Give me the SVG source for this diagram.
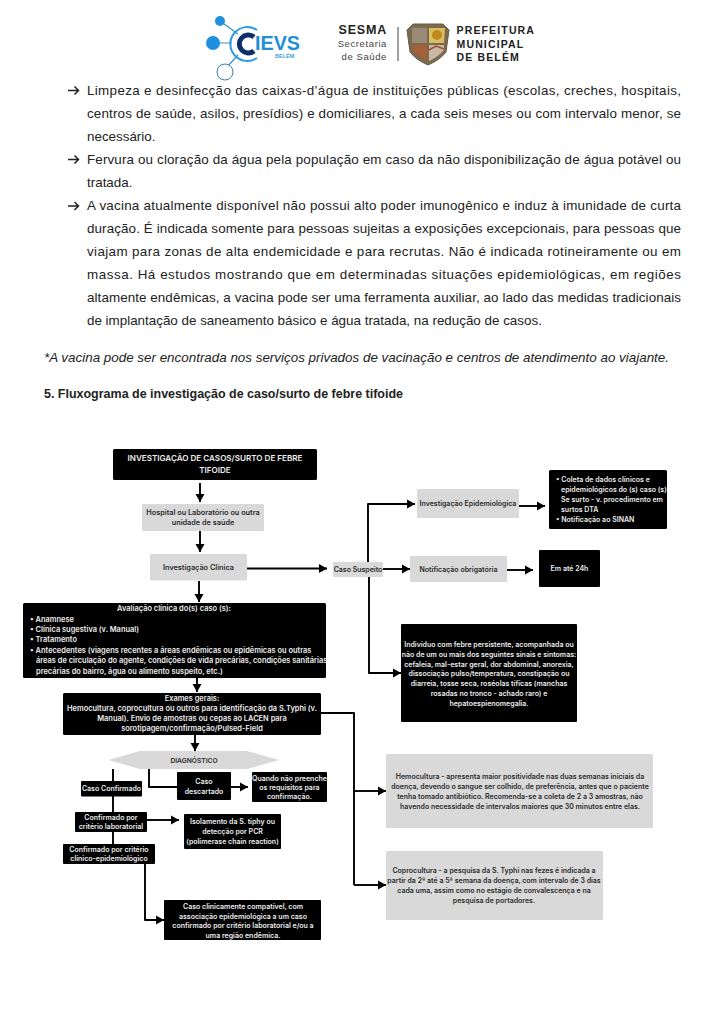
<svg xmlns="http://www.w3.org/2000/svg" width="725" height="1024" viewBox="0 0 725 1024">
<style>
text{font-family:"Liberation Sans",Arial,sans-serif}
.b{font-size:13.4px;fill:#222}
.k{fill:#000}
.g{fill:#d9d9d9}
.t{font-family:Inter,"Noto Sans",sans-serif;font-size:7px;font-weight:600;text-anchor:middle}
.w{fill:#eee}
.d{fill:#2a2a2a}
.l{font-family:Inter,"Noto Sans",sans-serif;font-size:7px;font-weight:600}
.big{font-size:7.45px}
.mid{font-size:7.3px}
.c{fill:none;stroke:#000;stroke-width:1.9;stroke-linejoin:round}
.a{marker-end:url(#ah)}
.bar{fill:none;stroke:#222;stroke-width:1.500}
</style>
<defs>
<marker id="ah" markerUnits="userSpaceOnUse" markerWidth="9" markerHeight="10" refX="8" refY="5" orient="auto"><path d="M0,0.500L8,5L0,9.500z" fill="#000"/></marker>
</defs>
<rect width="725" height="1024" fill="#fff"/>
<g id="logo-cievs">
<path d="M220,21L238,34M213,43H232M226,68L238,55" stroke="#3d8fc0" stroke-width="1.200" fill="none"/>
<circle cx="220" cy="21" r="5" fill="#1f8fe0"/><circle cx="213" cy="43" r="7" fill="#1f8fe0"/><circle cx="225" cy="72" r="8" fill="#fff" stroke="#3d7fa8" stroke-width="1"/>
<path d="M257,30A17,17 0 1 0 257,58" fill="none" stroke="#2a9be0" stroke-width="2"/>
<path d="M254,37A9,9 0 1 0 254,51" fill="none" stroke="#0c2f6b" stroke-width="5"/>
<text x="255" y="50" font-size="19.500" font-weight="700" fill="#1f8fd6" textLength="45" lengthAdjust="spacingAndGlyphs">IEVS</text>
<text x="275" y="58" font-size="5.500" font-weight="700" fill="#3d9fd6">BELÉM</text>
</g>
<g id="logo-sesma">
<text x="387" y="34" font-size="12.500" font-weight="700" text-anchor="end" letter-spacing=".8" fill="#222">SESMA</text>
<text x="387" y="47" font-size="9.500" text-anchor="end" letter-spacing=".6" fill="#444">Secretaria</text>
<text x="387" y="60" font-size="9.500" text-anchor="end" letter-spacing=".6" fill="#444">de Saúde</text>
<path d="M398,27V61" stroke="#444" stroke-width="1"/>
<path d="M407,30L413,24H443L449,30L446,52Q440,60 428,65Q416,60 410,52z" fill="#7a6a50" stroke="#6b5a40"/>
<path d="M412,28H427V43H412z" fill="#9a8a78"/>
<path d="M429,28H445L444,43H429z" fill="#d8c060"/><circle cx="437" cy="35" r="5" fill="#c08a20"/>
<path d="M413,45H427V60Q418,56 413,51z" fill="#a5603a"/><path d="M429,45H444V50Q438,57 429,61z" fill="#c9b8a6"/>
<path d="M429,50L436,46L444,49" stroke="#a05030" stroke-width="1.500" fill="none"/>
<text x="456.500" y="34" font-size="10.500" font-weight="700" letter-spacing="1.150" fill="#222">PREFEITURA</text>
<text x="456.500" y="48" font-size="10.500" font-weight="700" letter-spacing="1.150" fill="#222">MUNICIPAL</text>
<text x="456.500" y="61" font-size="10.500" font-weight="700" letter-spacing="1.150" fill="#222">DE BELÉM</text>
</g>
<g id="body-text">
<path class="bar" d="M68,90.500H78M74.500,86.500L78.500,90.500L74.500,94.500"/>
<path class="bar" d="M68,159.500H78M74.500,155.500L78.500,159.500L74.500,163.500"/>
<path class="bar" d="M68,206H78M74.500,202L78.500,206L74.500,210"/>
<text class="b" x="87" y="95" textLength="594">Limpeza e desinfecção das caixas-d’água de instituições públicas (escolas, creches, hospitais,</text>
<text class="b" x="87" y="118" textLength="594">centros de saúde, asilos, presídios) e domiciliares, a cada seis meses ou com intervalo menor, se</text>
<text class="b" x="87" y="141">necessário.</text>
<text class="b" x="87" y="164" textLength="594">Fervura ou cloração da água pela população em caso da não disponibilização de água potável ou</text>
<text class="b" x="87" y="187">tratada.</text>
<text class="b" x="87" y="210" textLength="594">A vacina atualmente disponível não possui alto poder imunogênico e induz à imunidade de curta</text>
<text class="b" x="87" y="233" textLength="594">duração. É indicada somente para pessoas sujeitas a exposições excepcionais, para pessoas que</text>
<text class="b" x="87" y="256" textLength="594">viajam para zonas de alta endemicidade e para recrutas. Não é indicada rotineiramente ou em</text>
<text class="b" x="87" y="279" textLength="594">massa. Há estudos mostrando que em determinadas situações epidemiológicas, em regiões</text>
<text class="b" x="87" y="302" textLength="594">altamente endêmicas, a vacina pode ser uma ferramenta auxiliar, ao lado das medidas tradicionais</text>
<text class="b" x="87" y="325">de implantação de saneamento básico e água tratada, na redução de casos.</text>
<text class="b" x="44" y="362" font-style="italic" textLength="625">*A vacina pode ser encontrada nos serviços privados de vacinação e centros de atendimento ao viajante.</text>
<text class="b" x="44" y="398" font-weight="700" textLength="359" style="font-size:12.500px">5. Fluxograma de investigação de caso/surto de febre tifoide</text>
</g>
<g id="connectors">
<path class="c a" d="M200,483V502"/>
<path class="c a" d="M200,531V552"/>
<path class="c a" d="M247,568.500H327"/>
<path class="c a" d="M199,581V602"/>
<path class="c a" d="M197,678V692"/>
<path class="c a" d="M195,735V751"/>
<path class="c" d="M113,769V844"/>
<path class="c" d="M149,769V787H177"/>
<path class="c a" d="M231,787H248"/>
<path class="c a" d="M147,820H179"/>
<path class="c a" d="M145,864V920H164"/>
<path class="c" d="M321,713H354V885"/>
<path class="c a" d="M354,791H386"/>
<path class="c a" d="M354,885H386"/>
<path class="c a" d="M368,562V504H415"/>
<path class="c a" d="M383,569H410"/>
<path class="c a" d="M369,577V673H401"/>
<path class="c a" d="M519,506H545"/>
<path class="c a" d="M507,570H533"/>
</g>
<g id="n-inicio"><rect class="k" x="113" y="449" width="204" height="31" rx="1.500"/><text class="t w" x="215" y="461" style="font-size:8.100px">INVESTIGAÇÃO DE CASOS/SURTO DE FEBRE</text><text class="t w" x="215" y="473" style="font-size:8.100px">TIFOIDE</text></g>
<g id="n-hospital"><rect class="g" x="142" y="504" width="122" height="27" rx="1.500"/><text class="t d mid" x="203" y="515">Hospital ou Laboratório ou outra</text><text class="t d mid" x="203" y="525">unidade de saúde</text></g>
<g id="n-clinica"><rect class="g" x="150" y="554" width="97" height="26.500" rx="1.500"/><text class="t d mid" x="198.500" y="570">Investigação Clínica</text></g>
<g id="n-avaliacao"><rect class="k" x="23" y="603" width="303" height="75" rx="1.500"/>
<text class="t w big" x="174" y="611">Avaliação clínica do(s) caso (s):</text>
<text class="l w big" x="30" y="621.500">• Anamnese</text><text class="l w big" x="30" y="631.500">•  Clínica sugestiva (v. Manual)</text><text class="l w big" x="30" y="642">• Tratamento</text><text class="l w big" x="30" y="652.500">• Antecedentes (viagens recentes a áreas endêmicas ou epidêmicas ou outras</text><text class="l w big" x="36" y="663">áreas de circulação do agente, condições de vida precárias, condições sanitárias</text><text class="l w big" x="36" y="673.500">precárias do bairro, água ou alimento suspeito, etc.)</text></g>
<g id="n-exames"><rect class="k" x="63" y="693" width="258" height="42" rx="1.500"/>
<text class="t w big" x="192" y="700.500">Exames gerais:</text><text class="t w big" x="192" y="711">Hemocultura, coprocultura ou outros para identificação da S.Typhi (v.</text><text class="t w big" x="192" y="721">Manual). Envio de amostras ou cepas ao LACEN para</text><text class="t w big" x="192" y="731">sorotipagem/confirmação/Pulsed-Field</text></g>
<g id="n-diagnostico"><path class="g" d="M108,760L140,751H247L279,760L247,769H140z"/><text class="t d" x="194" y="763" style="font-size:6.700px">DIAGNÓSTICO</text></g>
<g id="n-confirmado"><rect class="k" x="81" y="781" width="61" height="15.500" rx="1"/><text class="t w" x="111.500" y="791">Caso Confirmado</text></g>
<g id="n-descartado"><rect class="k" x="177" y="772" width="54" height="28" rx="1"/><text class="t w" x="204" y="784">Caso</text><text class="t w" x="204" y="794">descartado</text></g>
<g id="n-quando"><rect class="k" x="252" y="772" width="75" height="30" rx="1"/><text class="t w" x="289.500" y="780.500">Quando não preenche</text><text class="t w" x="289.500" y="790">os requisitos para</text><text class="t w" x="289.500" y="799">confirmação.</text></g>
<g id="n-lab"><rect class="k" x="75" y="812" width="72" height="20" rx="1"/><text class="t w" x="111" y="820">Confirmado por</text><text class="t w" x="111" y="829">critério laboratorial</text></g>
<g id="n-isolamento"><rect class="k" x="184" y="814" width="97" height="35" rx="1"/><text class="t w" x="232.500" y="824">Isolamento da S. tiphy ou</text><text class="t w" x="232.500" y="834">detecção por PCR</text><text class="t w" x="232.500" y="844">(polimerase chain reaction)</text></g>
<g id="n-clinepi"><rect class="k" x="63" y="844" width="92" height="20" rx="1"/><text class="t w" x="109" y="852">Confirmado por critério</text><text class="t w" x="109" y="861">clínico-epidemiológico</text></g>
<g id="n-compat"><rect class="k" x="164" y="900" width="157" height="40" rx="1"/><text class="t w" x="243" y="909">Caso clinicamente compatível, com</text><text class="t w" x="243" y="919">associação epidemiológica a um caso</text><text class="t w" x="243" y="928">confirmado por critério laboratorial e/ou a</text><text class="t w" x="243" y="938">uma região endêmica.</text></g>
<g id="n-hemo"><rect class="g" x="386" y="754" width="267" height="74" rx="1.500"/><text class="t d" x="520" y="779">Hemocultura - apresenta maior positividade nas duas semanas iniciais da</text><text class="t d" x="520" y="789">doença, devendo o sangue ser colhido, de preferência, antes que o paciente</text><text class="t d" x="520" y="799">tenha tomado antibiótico.  Recomenda-se a coleta de 2 a 3 amostras, não</text><text class="t d" x="520" y="808.500">havendo necessidade de intervalos maiores que 30 minutos entre elas.</text></g>
<g id="n-copro"><rect class="g" x="386" y="851" width="217" height="69" rx="1.500"/><text class="t d" x="494" y="873">Coprocultura - a pesquisa da S. Typhi nas fezes é indicada a</text><text class="t d" x="494" y="883">partir da 2ª até a 5ª semana da doença, com intervalo de 3 dias</text><text class="t d" x="494" y="893">cada uma, assim como no estágio de convalescença e na</text><text class="t d" x="494" y="903">pesquisa de portadores.</text></g>
<g id="n-suspeito"><rect class="g" x="333" y="562" width="50" height="15" rx="1"/><text class="t d" x="358" y="572">Caso Suspeito</text></g>
<g id="n-epi"><rect class="g" x="417" y="489" width="102" height="29" rx="1"/><text class="t d" x="468" y="506">Investigação Epidemiológica</text></g>
<g id="n-coleta"><rect class="k" x="549" y="470" width="118" height="59" rx="1.500"/><text class="l w" x="556" y="482">• Coleta de dados clínicos e</text><text class="l w" x="561" y="492">epidemiológicos do (s) caso (s)</text><text class="l w" x="561" y="502">Se surto - v. procedimento em</text><text class="l w" x="561" y="511.500">surtos DTA</text><text class="l w" x="556" y="521.500">• Notificação ao SINAN</text></g>
<g id="n-notif"><rect class="g" x="410" y="556" width="97" height="26" rx="1"/><text class="t d" x="458.500" y="572">Notificação obrigatória</text></g>
<g id="n-24h"><rect class="k" x="539" y="550" width="61" height="37" rx="1"/><text class="t w" x="569.500" y="571">Em até 24h</text></g>
<g id="n-individuo"><rect class="k" x="401" y="624" width="176" height="98" rx="1"/><text class="t w" x="489" y="647">Indivíduo com febre persistente, acompanhada ou</text><text class="t w" x="489" y="657">não de um ou mais dos seguintes sinais e sintomas:</text><text class="t w" x="489" y="666.500">cefaleia, mal-estar geral, dor abdominal, anorexia,</text><text class="t w" x="489" y="676">dissociação pulso/temperatura, constipação ou</text><text class="t w" x="489" y="686">diarreia, tosse seca, roséolas tíficas (manchas</text><text class="t w" x="489" y="696">rosadas no tronco - achado raro) e</text><text class="t w" x="489" y="706">hepatoespienomegalia.</text></g>
</svg>
